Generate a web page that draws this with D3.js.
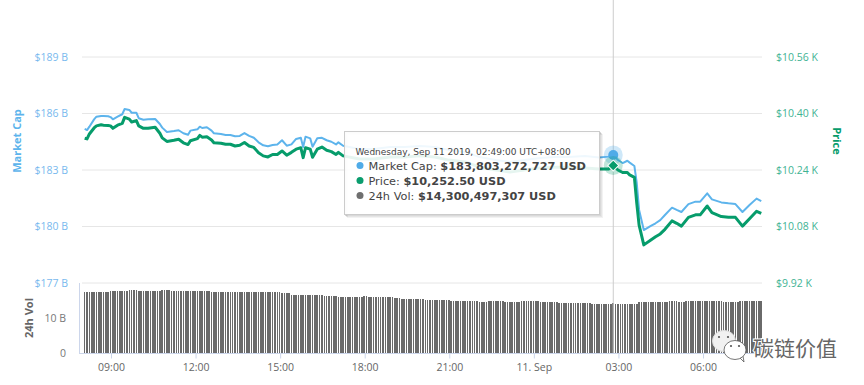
<!DOCTYPE html>
<html>
<head>
<meta charset="utf-8">
<script src="https://cdn.jsdelivr.net/npm/d3@7"></script>
<style>
body { margin: 0; background: #fff; }
text { font-family: "Open Sans", sans-serif; }
</style>
</head>
<body>
<div id="chart"></div>
<script>
// 5 minute steps counted from 08:04
const lineSteps = [0,1,2,4,5,7,8,10,11,12,14,16,17,19,20,22,23,25,27,30,32,33,35,38,40,42,44,45,48,49,50,52,54,55,58,
  60,62,64,66,68,70,72,74,76,78,80,82,84,86,88,90,92,93,94,96,97,99,101,103,105,107,108,110,
  117,123,130,136,143,149,155,162,168,175,181,187,194,200,206,213,219,223,225,
  227,229,231,232,234,235,236,238,241,243,245,247,250,252,254,257,260,262,265,267,271,274,277,280,283,286,288];

// billions of USD
const marketCap = [185.18,185.12,185.30,185.69,185.83,185.87,185.87,185.85,185.81,185.69,185.83,185.96,186.24,186.19,186.04,186.04,185.75,185.67,185.69,185.71,185.44,185.25,185.02,185.07,185.11,184.95,184.87,185.09,185.16,185.30,185.23,185.27,185.09,184.95,184.91,
  184.86,184.86,184.79,184.81,184.96,184.81,184.71,184.47,184.31,184.26,184.33,184.36,184.58,184.29,184.36,184.65,184.71,184.22,184.77,184.68,184.24,184.68,184.71,184.58,184.50,184.36,184.47,184.29,
  184.11,184.11,184.22,184.22,184.27,184.22,184.06,183.96,183.69,183.53,183.42,183.53,183.64,183.69,183.69,183.74,183.66,183.71,183.80,
  183.53,183.37,183.49,183.39,183.21,182.31,180.88,179.81,180.03,180.17,180.34,180.61,181.00,180.88,180.77,181.19,181.32,181.32,181.76,181.44,181.28,181.23,181.19,180.77,181.14,181.48,181.35];

// USD
const price = [10330,10328,10342,10359,10365,10368,10367,10366,10365,10358,10367,10372,10389,10384,10376,10380,10365,10358,10358,10361,10344,10331,10321,10324,10327,10317,10312,10323,10329,10338,10333,10334,10325,10317,10316,
  10313,10313,10308,10310,10318,10308,10304,10289,10280,10277,10284,10284,10294,10282,10290,10299,10303,10275,10303,10299,10276,10299,10305,10296,10292,10284,10290,10280,
  10271,10271,10277,10277,10280,10277,10268,10263,10248,10240,10234,10240,10246,10248,10248,10246,10243,10243,10252.5,
  10240,10233,10233,10226,10219,10146,10084,10028,10042,10051,10059,10072,10096,10089,10081,10106,10113,10113,10138,10119,10108,10106,10106,10081,10102,10123,10117];

// billions of USD, one bar every 5 minutes, twelve bars per row
const volume = [
  17.4,17.4,17.4,17.4,17.4,17.4,17.4,17.4,17.4,17.4,17.4,17.6,
  17.6,17.6,17.6,17.6,17.6,17.6,17.6,17.9,17.9,17.9,17.9,17.6,
  17.6,17.6,17.6,17.6,17.6,17.6,17.6,17.6,17.6,17.9,17.9,17.9,
  17.9,17.6,17.6,17.6,17.6,17.6,17.6,17.6,17.6,17.6,17.6,17.6,
  17.6,17.6,17.6,17.6,17.6,17.6,17.35,17.35,17.35,17.35,17.35,17.35,
  17.35,17.35,17.35,17.35,17.35,17.35,17.35,17.35,17.35,17.35,17.35,17.35,
  17.35,17.35,17.35,17.35,17.35,17.35,17.35,17.35,17.35,17.35,17.35,17.35,
  17.05,17.05,17.05,17.05,16.6,16.6,16.6,16.6,16.6,16.6,16.5,16.5,
  16.5,16.5,16.5,16.5,16.5,16.5,16.4,16.4,16.4,16.4,16.4,16.4,
  16.1,16.1,16.1,16.1,16.1,16.1,16.1,16.1,16.1,16.1,16.1,16.37,
  16.37,16.08,16.08,16.08,16.08,16.08,16.08,16.08,16.08,16.08,16.08,16.08,
  15.8,15.8,15.8,15.5,15.5,15.5,15.34,15.34,15.34,15.34,15.34,15.34,
  15.34,15.14,15.14,15.14,15.14,15.14,15.14,15.14,15.14,15.14,15.14,15.14,
  14.86,14.86,14.86,14.86,14.86,14.86,14.86,14.86,14.86,14.86,14.86,14.86,
  14.49,14.49,14.49,14.49,14.86,14.86,14.86,14.86,14.86,14.86,14.86,14.49,
  14.49,14.49,14.49,14.49,14.49,14.49,14.8,14.8,14.8,14.8,14.8,14.8,
  14.86,14.86,14.49,14.49,14.49,14.49,14.49,14.49,14.49,14.49,14.2,14.2,
  14.2,14.2,14.2,14.2,14.2,14.2,14.2,14.2,14.2,14.2,14.2,14.2,
  14.05,14.05,14.05,14.05,14.05,14.05,14.05,14.05,14.05,14.3,14.05,14.05,
  14.05,14.05,14.05,14.05,14.05,14.05,14.05,14.05,14.49,14.49,14.49,14.49,
  14.49,14.49,14.49,14.49,14.49,14.49,14.49,14.49,14.49,14.77,14.77,14.77,
  14.77,14.49,14.49,14.49,14.77,14.77,14.77,14.77,14.77,14.77,14.77,14.77,
  14.77,14.77,14.77,14.77,14.77,14.77,14.77,14.77,14.49,14.49,14.49,14.49,
  14.49,14.49,14.49,14.77,14.77,14.77,14.77,14.77,14.77,14.77,14.77,14.77,14.77];

const capTicks = [177,180,183,186,189];
const priceTicks = [9920,10080,10240,10400,10560];
const volTicks = [0,10];
const timeTicks = ['2019-09-10T09:00','2019-09-10T12:00','2019-09-10T15:00','2019-09-10T18:00','2019-09-10T21:00','2019-09-11T00:00','2019-09-11T03:00','2019-09-11T06:00'];
const timeLabels = ['09:00','12:00','15:00','18:00','21:00','11. Sep','03:00','06:00'];

const hoverStep = 225;
const tipTitle = 'Wednesday, Sep 11 2019, 02:49:00 UTC+08:00';
const tipRows = [
  {label: 'Market Cap: ', value: '$183,803,272,727 USD', color: '#4fabe8'},
  {label: 'Price: ', value: '$10,252.50 USD', color: '#0a9d6e'},
  {label: '24h Vol: ', value: '$14,300,497,307 USD', color: '#6f6f6f'}
];

const blue = '#5db4ec', green = '#069c6b', blueText = '#78b9ee', greenText = '#3fb394';
const dims = {width: 864, height: 385, left: 82, right: 762};
const startTime = new Date('2019-09-10T08:04').getTime();
const stepTime = n => new Date(startTime + n * 5 * 60000);

const svg = d3.select('#chart').append('svg')
  .attr('width', dims.width)
  .attr('height', dims.height)
  .style('display', 'block');

const x = d3.scaleTime()
  .domain([new Date(timeTicks[0]), new Date(timeTicks[7])])
  .range([111, 703]);
const capY = d3.scaleLinear().domain([177, 189]).range([283, 57]);
const priceY = d3.scaleLinear().domain([9920, 10560]).range([283, 57]);
const volY = d3.scaleLinear().domain([0, 20]).range([353, 283]);

// grid
svg.append('g').selectAll('line')
  .data(capTicks)
  .join('line')
  .attr('x1', dims.left).attr('x2', dims.right)
  .attr('y1', d => capY(d)).attr('y2', d => capY(d))
  .attr('stroke', '#e6e6e6');

// axes
const capAxis = svg.append('g')
  .attr('transform', 'translate(72,0)')
  .call(d3.axisLeft(capY).tickValues(capTicks).tickSize(0).tickFormat(d => `$${d} B`));
capAxis.select('.domain').remove();
capAxis.selectAll('text').attr('fill', blueText).style('font-size', '10.5px').attr('x', -4);

const priceAxis = svg.append('g')
  .attr('transform', 'translate(772,0)')
  .call(d3.axisRight(priceY).tickValues(priceTicks).tickSize(0)
    .tickFormat(d => `$${d3.format('.2f')(d / 1000)} K`));
priceAxis.select('.domain').remove();
priceAxis.selectAll('text').attr('fill', greenText).style('font-size', '10.5px').attr('x', 4);

const volAxis = svg.append('g')
  .attr('transform', 'translate(72,0)')
  .call(d3.axisLeft(volY).tickValues(volTicks).tickSize(0).tickFormat(d => d ? `${d} B` : '0'));
volAxis.select('.domain').remove();
volAxis.selectAll('text').attr('fill', '#777').style('font-size', '10.5px').attr('x', -6);

svg.append('line')
  .attr('x1', 79.5).attr('x2', 79.5).attr('y1', 283).attr('y2', 353)
  .attr('stroke', '#ccd6eb');

const timeAxis = svg.append('g')
  .attr('transform', 'translate(0,353.5)')
  .call(d3.axisBottom(x).tickValues(timeTicks.map(d => new Date(d))).tickSize(5).tickPadding(5)
    .tickFormat((d, i) => timeLabels[i]));
timeAxis.select('.domain').attr('d', `M79,0H${dims.right}`).attr('stroke', '#ccd6eb');
timeAxis.selectAll('line').attr('stroke', '#ccd6eb');
timeAxis.selectAll('text').attr('fill', '#666').style('font-size', '10.5px');

// axis titles
const title = (txt, tx, ty, rot, col) => svg.append('text')
  .attr('transform', `translate(${tx},${ty}) rotate(${rot})`)
  .attr('text-anchor', 'middle')
  .attr('fill', col)
  .style('font-size', '11px')
  .style('font-weight', 700)
  .text(txt);
title('Market Cap', 21, 141, -90, blue);
title('Price', 833, 141, 90, green);
title('24h Vol', 33, 318, -90, '#666');

// volume bars
svg.append('g').selectAll('rect')
  .data(volume)
  .join('rect')
  .attr('x', (d, i) => x(stepTime(i)) - 0.8)
  .attr('width', 1.6)
  .attr('y', d => volY(d))
  .attr('height', d => volY(0) - volY(d))
  .attr('fill', '#6a6a6a')
  .attr('shape-rendering', 'crispEdges');

// crosshair
svg.append('line')
  .attr('x1', x(stepTime(hoverStep))).attr('x2', x(stepTime(hoverStep)))
  .attr('y1', 0).attr('y2', 353)
  .attr('stroke', '#ccc');

// lines
const capLine = d3.line().x((d, i) => x(stepTime(lineSteps[i]))).y(d => capY(d));
const priceLine = d3.line().x((d, i) => x(stepTime(lineSteps[i]))).y(d => priceY(d));

svg.append('path').attr('d', capLine(marketCap))
  .attr('fill', 'none').attr('stroke', blue).attr('stroke-width', 2).attr('stroke-linejoin', 'round');
svg.append('path').attr('d', priceLine(price))
  .attr('fill', 'none').attr('stroke', green).attr('stroke-width', 3).attr('stroke-linejoin', 'round');

// hover markers
const hoverI = lineSteps.indexOf(hoverStep);
const hx = x(stepTime(hoverStep));
const capHover = capY(marketCap[hoverI]), priceHover = priceY(price[hoverI]);
svg.append('circle').attr('cx', hx).attr('cy', capHover).attr('r', 9.5)
  .attr('fill', blue).attr('fill-opacity', 0.3);
svg.append('circle').attr('cx', hx).attr('cy', capHover).attr('r', 5)
  .attr('fill', '#4fabe8');
svg.append('circle').attr('cx', hx).attr('cy', priceHover).attr('r', 9.5)
  .attr('fill', green).attr('fill-opacity', 0.25);
svg.append('path')
  .attr('transform', `translate(${hx},${priceHover}) rotate(45)`)
  .attr('d', d3.symbol(d3.symbolSquare, 60)())
  .attr('fill', green)
  .attr('stroke', '#fff');

// tooltip, soft shadow made of offset outlines
const tip = svg.append('g').attr('transform', 'translate(344.5,131.5)');
[[3, 0.05], [2, 0.1], [1, 0.15]].forEach(s => {
  tip.append('rect')
    .attr('x', s[0]).attr('y', s[0])
    .attr('width', 255).attr('height', 83)
    .attr('fill', 'none')
    .attr('stroke', '#000').attr('stroke-opacity', s[1]);
});
tip.append('rect')
  .attr('width', 255).attr('height', 83)
  .attr('fill', '#fff').attr('fill-opacity', 0.9)
  .attr('stroke', '#ccc');
tip.append('text')
  .attr('x', 11).attr('y', 23)
  .attr('fill', '#444')
  .style('font-family', '"DejaVu Sans"')
  .style('font-size', '9px')
  .text(tipTitle);
tipRows.forEach((r, i) => {
  const ry = 38 + i * 15;
  tip.append('circle').attr('cx', 15.5).attr('cy', ry - 4).attr('r', 3.5).attr('fill', r.color);
  const t = tip.append('text')
    .attr('x', 24).attr('y', ry)
    .attr('fill', '#444')
    .style('font-family', '"DejaVu Sans"')
    .style('font-size', '11.3px');
  t.append('tspan').text(r.label);
  t.append('tspan').style('font-weight', 700).text(r.value);
});

// watermark
const mark = svg.append('g');
mark.append('ellipse').attr('cx', 724).attr('cy', 341).attr('rx', 11.5).attr('ry', 10.5)
  .attr('fill', '#f1f1f1').attr('stroke', '#ddd');
mark.append('path').attr('d', 'M740,358L744,362L743,356Z')
  .attr('fill', '#fff').attr('stroke', '#555').attr('stroke-width', 0.8);
mark.append('ellipse').attr('cx', 735).attr('cy', 350).attr('rx', 11).attr('ry', 9.5)
  .attr('fill', '#fff').attr('stroke', '#555').attr('stroke-width', 0.8);
[[719, 337], [728, 337], [731, 346], [739, 346]].forEach(p => {
  mark.append('circle').attr('cx', p[0]).attr('cy', p[1]).attr('r', 1.1).attr('fill', '#555');
});
mark.append('text')
  .attr('x', 753).attr('y', 356)
  .attr('fill', '#666')
  .attr('stroke', '#fff').attr('stroke-width', 2).attr('paint-order', 'stroke')
  .style('font-family', '"Noto Sans CJK SC"')
  .style('font-size', '21px')
  .text('碳链价值');
</script>
</body>
</html>
